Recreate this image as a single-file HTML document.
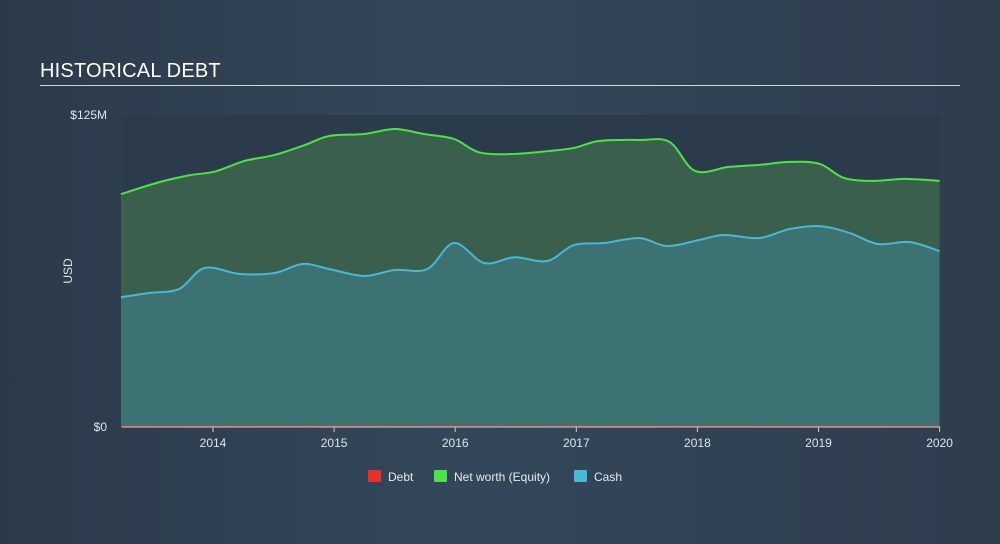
<!DOCTYPE html>
<html><head><meta charset="utf-8"><style>
html,body{margin:0;padding:0}
body{width:1000px;height:544px;background:linear-gradient(90deg,#2b3a4b 0%,#34475a 45%,#2e3d4e 100%);font-family:"Liberation Sans",sans-serif;overflow:hidden;position:relative}
.title{position:absolute;left:40px;top:60px;color:#fff;font-size:20px;letter-spacing:0.2px}
.rule{position:absolute;left:40px;top:85px;width:920px;height:1px;background:#cfd6dd}
svg{position:absolute;left:0;top:0}
text{font-family:"Liberation Sans",sans-serif}
</style></head><body>
<div class="title">HISTORICAL DEBT</div>
<div class="rule"></div>
<svg id="chart" width="1000" height="544"></svg>
<script>
const years=[2013.24,2013.55,2013.80,2014.02,2014.26,2014.51,2014.76,2014.96,2015.25,2015.50,2015.74,2015.99,2016.20,2016.49,2016.78,2016.98,2017.19,2017.52,2017.77,2017.98,2018.26,2018.51,2018.76,2019.01,2019.21,2019.46,2019.71,2020.00];
const netWorth=[93.3,98,100.8,102.4,106.6,109,113,116.6,117.4,119.4,117.4,115.4,110,109.4,110.6,111.8,114.6,115,114.2,102.6,104.2,105,106.2,105.4,99.8,98.6,99.4,98.6];
const cashYears=[2013.24,2013.47,2013.72,2013.93,2014.22,2014.51,2014.74,2014.96,2015.25,2015.50,2015.77,2015.99,2016.24,2016.49,2016.76,2016.98,2017.23,2017.52,2017.75,2018.02,2018.22,2018.51,2018.76,2019.01,2019.26,2019.49,2019.75,2020.00];
const cash=[52,53.7,55.3,63.7,61.3,61.7,65.3,63.3,60.5,62.9,63.3,73.7,65.7,68,66.5,72.9,73.7,75.7,72.5,75,76.9,75.7,79.3,80.5,77.7,73.3,74.1,70.5];
const debt=[0,0];
const debtYears=[2013.24,2020.0];
const xTicks=[2014,2015,2016,2017,2018,2019,2020];
const yTicks=[0,125];
const yLabels=["$0","$125M"];

const X0=122,X1=940,Y0=427,Y1=115;
const xs=y=>213+(y-2014)*121.1;
const ys=v=>Y0-(v/125)*(Y0-Y1);
const NS="http://www.w3.org/2000/svg";
const svg=document.getElementById('chart');
function mk(t,a){const e=document.createElementNS(NS,t);for(const k in a)e.setAttribute(k,a[k]);return e;}
function smooth(pts){let d=`M${pts[0][0]},${pts[0][1]}`;for(let i=0;i<pts.length-1;i++){const p0=pts[Math.max(0,i-1)],p1=pts[i],p2=pts[i+1],p3=pts[Math.min(pts.length-1,i+2)];const c1=[p1[0]+(p2[0]-p0[0])/6,p1[1]+(p2[1]-p0[1])/6],c2=[p2[0]-(p3[0]-p1[0])/6,p2[1]-(p3[1]-p1[1])/6];d+=`C${c1[0]},${c1[1]} ${c2[0]},${c2[1]} ${p2[0]},${p2[1]}`;}return d;}

const bg=mk('rect',{x:X0,y:Y1,width:X1-X0,height:Y0-Y1,fill:'#2c3b4b'});


svg.appendChild(bg);

function area(xv,yv,fill,stroke,name){
  const pts=xv.map((x,i)=>[xs(x),ys(yv[i])]);
  const line=smooth(pts);
  const a=mk('path',{d:line+`L${pts[pts.length-1][0]},${Y0}L${pts[0][0]},${Y0}Z`,fill:fill});
  
  
  svg.appendChild(a);
  const l=mk('path',{d:line,fill:'none',stroke:stroke,'stroke-width':2});
  
  
  svg.appendChild(l);
}
area(years,netWorth,'#3a5f4c','#4fe04a','net-worth');
area(cashYears,cash,'#3d7272','#4ab7d6','cash');
const dl=mk('path',{d:`M${xs(debtYears[0])},${ys(debt[0])-0.5}L${xs(debtYears[1])},${ys(debt[1])-0.5}`,stroke:'#e8302c','stroke-width':1.5});


svg.appendChild(dl);

const ax=mk('line',{x1:X0,y1:Y0,x2:X1,y2:Y0,stroke:'#c8d0d8','stroke-width':1});


svg.appendChild(ax);
xTicks.forEach(t=>{
  const tk=mk('line',{x1:xs(t),y1:Y0,x2:xs(t),y2:Y0+5,stroke:'#c8d0d8'});
  
  
  svg.appendChild(tk);
  const tx=mk('text',{x:xs(t),y:447,fill:'#dfe4e9','font-size':12,'text-anchor':'middle'});
  tx.textContent=t;
  
  
  svg.appendChild(tx);
});
yTicks.forEach((v,i)=>{
  const tx=mk('text',{x:107,y:ys(v)+4,fill:'#dfe4e9','font-size':12,'text-anchor':'end'});
  tx.textContent=yLabels[i];
  
  
  svg.appendChild(tx);
});
const yt=mk('text',{x:72,y:271,fill:'#dfe4e9','font-size':12,'text-anchor':'middle',transform:'rotate(-90 72 271)'});
yt.textContent='USD';


svg.appendChild(yt);

const legend=[['Debt','#e8302c',368],['Net worth (Equity)','#4fe04a',434],['Cash','#4ab7d6',574]];
legend.forEach(([n,c,x])=>{
  const g=mk('g',{});
  
  
  g.appendChild(mk('rect',{x:x,y:470,width:13,height:12,fill:c,rx:1}));
  const t=mk('text',{x:x+20,y:481,fill:'#e6eaee','font-size':12});
  t.textContent=n;
  g.appendChild(t);
  svg.appendChild(g);
});
</script>
</body></html>
